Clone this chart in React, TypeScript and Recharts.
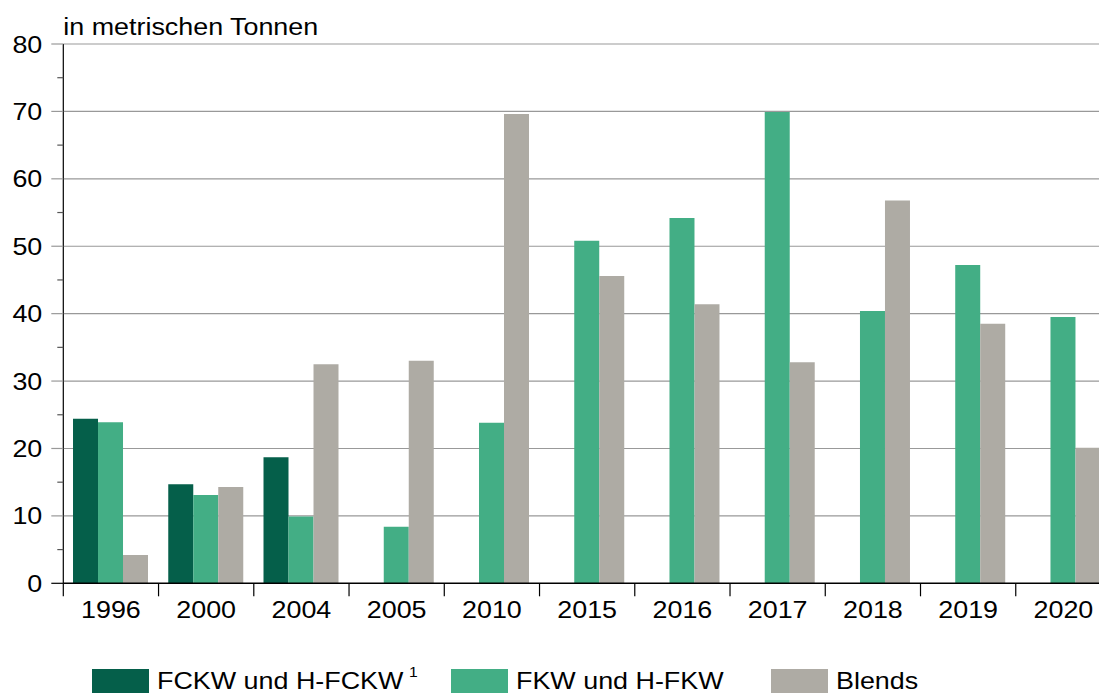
import { Bar, BarChart, CartesianGrid, Legend, XAxis, YAxis } from "recharts";

const years = ["1996", "2000", "2004", "2005", "2010", "2015", "2016", "2017", "2018", "2019", "2020"];
const fckw = [24.4, 14.7, 18.7, null, null, null, null, null, null, null, null];
const fkw = [23.9, 13.1, 9.9, 8.4, 23.8, 50.8, 54.2, 69.9, 40.4, 47.2, 39.5];
const blends = [4.2, 14.3, 32.5, 33.0, 69.6, 45.6, 41.4, 32.8, 56.8, 38.5, 20.1];

const seriesNames = ["FCKW und H-FCKW", "FKW und H-FKW", "Blends"];
const seriesNotes = ["1", "", ""];
const yTicks = [0, 5, 10, 15, 20, 25, 30, 35, 40, 45, 50, 55, 60, 65, 70, 75, 80];
const gridValues = [10, 20, 30, 40, 50, 60, 70, 80];
const yDomain = [0, 80];
const unitLabel = "in metrischen Tonnen";

const data = years.map((year, i) => ({
  year,
  fckw: fckw[i],
  fkw: fkw[i],
  blends: blends[i],
}));

const FONT = "'Liberation Sans', Arial, sans-serif";
const STRETCH = 1.12;
const COLORS = ["#055f4a", "#43ae85", "#aeaba4"];
const CHART_W = 1121;
const CHART_H = 720;
const Y_AXIS_W = 63.3;
const LEGEND_LEFT = [92, 451, 771];

// grid only at the labelled values; minor ticks come from the axis itself
function gridCoords({ yAxis, offset }: any) {
  if (yAxis && typeof yAxis.scale === "function") return gridValues.map((v) => yAxis.scale(v));
  const [lo, hi] = yDomain;
  return gridValues.map((v) => offset.top + offset.height * (1 - (v - lo) / (hi - lo)));
}

function YTick(props: any) {
  const { x, y, payload } = props;
  const v = payload.value as number;
  const major = v % 10 === 0;
  return (
    <g>
      <line
        x1={x - (major ? 12 : 6)}
        x2={x}
        y1={y}
        y2={y}
        stroke={v === 0 ? "#000" : major ? "#999" : "#555"}
        strokeWidth={1.2}
      />
      {major && (
        <text
          transform={`translate(${x - 21},${y + 8.6}) scale(${STRETCH},1)`}
          textAnchor="end"
          fontFamily={FONT}
          fontSize={24}
          fill="#000"
        >
          {v}
        </text>
      )}
    </g>
  );
}

function XTick(props: any) {
  const { x, y, payload, width, visibleTicksCount } = props;
  const band = (width || CHART_W - Y_AXIS_W - 10) / (visibleTicksCount || years.length);
  const edge = x - band / 2;
  return (
    <g>
      <line x1={edge} x2={edge} y1={y} y2={y + 13} stroke="#000" strokeWidth={1.2} />
      <text
        transform={`translate(${x},${y + 35}) scale(${STRETCH},1)`}
        textAnchor="middle"
        fontFamily={FONT}
        fontSize={24}
        fill="#000"
      >
        {payload.value}
      </text>
    </g>
  );
}

function UnitLabel(props: any) {
  const { viewBox } = props;
  const x = viewBox.x + viewBox.width;
  return (
    <text
      transform={`translate(${x},${viewBox.y - 9}) scale(${STRETCH},1)`}
      fontFamily={FONT}
      fontSize={24}
      fill="#000"
    >
      {unitLabel}
    </text>
  );
}

function LegendContent(props: any) {
  const items = [...(props.payload || [])].sort(
    (a: any, b: any) => seriesNames.indexOf(a.value) - seriesNames.indexOf(b.value)
  );
  return (
    <div style={{ position: "relative", width: "100%", height: "100%" }}>
      {items.map((item: any) => {
        const i = seriesNames.indexOf(item.value);
        return (
          <div key={item.value} style={{ position: "absolute", left: LEGEND_LEFT[i], top: 669 }}>
            <div style={{ position: "absolute", left: 0, top: 0, width: 57, height: 30, background: item.color }} />
            <div
              style={{
                position: "absolute",
                left: 65,
                top: -0.5,
                whiteSpace: "nowrap",
                fontFamily: FONT,
                fontSize: 24,
                lineHeight: "24px",
                color: "#000",
                transform: `scaleX(${STRETCH})`,
                transformOrigin: "left top",
              }}
            >
              {item.value}
              {seriesNotes[i] && (
                <span style={{ fontSize: 14, position: "relative", top: -12, marginLeft: 5 }}>{seriesNotes[i]}</span>
              )}
            </div>
          </div>
        );
      })}
    </div>
  );
}

export default function App() {
  return (
    <div style={{ position: "fixed", left: 0, top: 0, width: 1099, height: 693, overflow: "hidden", background: "#fff" }}>
      <BarChart
        width={CHART_W}
        height={CHART_H}
        data={data}
        margin={{ top: 44, right: 10, bottom: 0, left: 0 }}
        barCategoryGap="10.2%"
        barGap={0}
      >
        <CartesianGrid
          vertical={false}
          stroke="#999"
          strokeWidth={1.2}
          horizontalCoordinatesGenerator={gridCoords}
        />
        <XAxis
          dataKey="year"
          height={136.7}
          tickSize={0}
          tickMargin={0}
          tickLine={false}
          axisLine={{ stroke: "#000", strokeWidth: 1.5 }}
          tick={(p: any) => <XTick {...p} />}
          interval={0}
        />
        <YAxis
          width={Y_AXIS_W}
          domain={yDomain}
          ticks={yTicks}
          interval={0}
          tickSize={0}
          tickMargin={0}
          tickLine={false}
          axisLine={{ stroke: "#000", strokeWidth: 1.2 }}
          tick={(p: any) => <YTick {...p} />}
          label={{ content: (p: any) => <UnitLabel {...p} /> }}
        />
        <Legend
          layout="horizontal"
          verticalAlign="middle"
          align="center"
          wrapperStyle={{ left: 0, top: 0, width: CHART_W, height: CHART_H, pointerEvents: "none" }}
          content={(p: any) => <LegendContent {...p} />}
        />
        <Bar dataKey="fckw" name={seriesNames[0]} fill={COLORS[0]} isAnimationActive={false} />
        <Bar dataKey="fkw" name={seriesNames[1]} fill={COLORS[1]} isAnimationActive={false} />
        <Bar dataKey="blends" name={seriesNames[2]} fill={COLORS[2]} isAnimationActive={false} />
      </BarChart>
    </div>
  );
}
